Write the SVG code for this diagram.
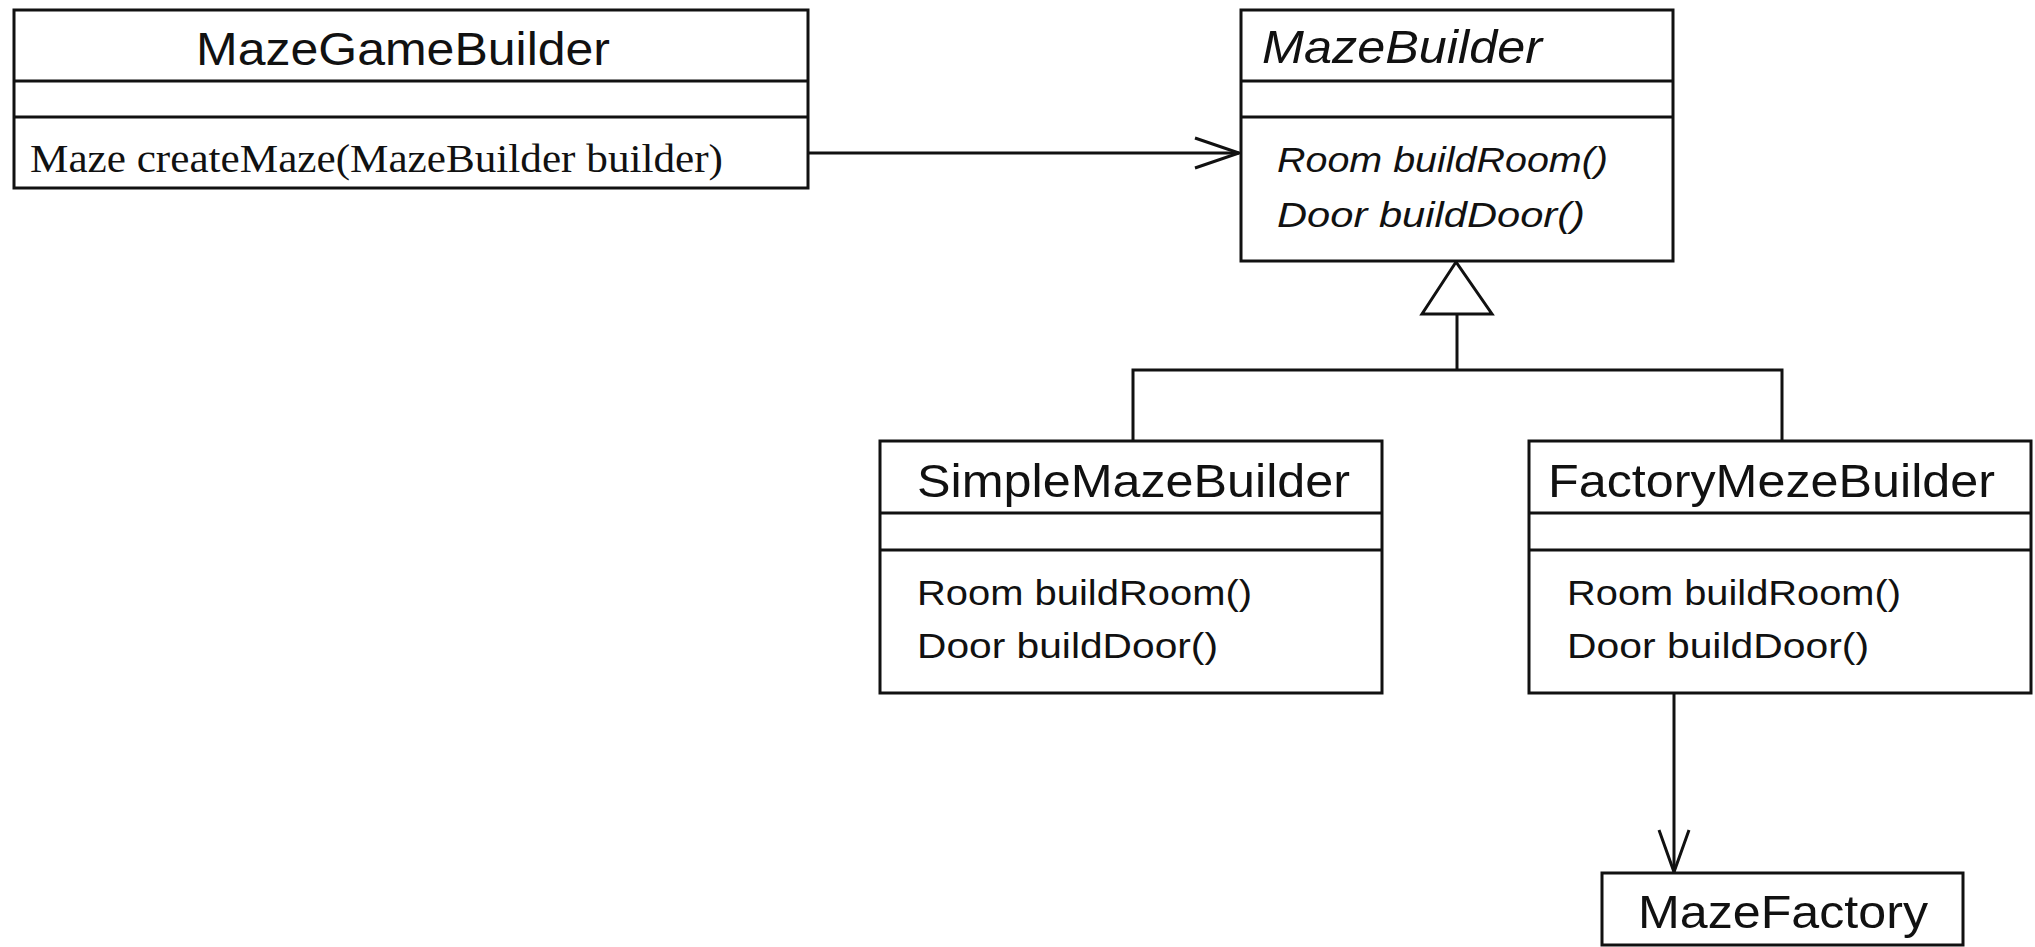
<svg xmlns="http://www.w3.org/2000/svg" width="2035" height="947" viewBox="0 0 2035 947">
<style>
.box{fill:#fff;stroke:#111;stroke-width:3}
.div{stroke:#111;stroke-width:3}
.name{font-family:"Liberation Sans",Arial,sans-serif;font-size:46px;fill:#111}
.iname{font-family:"Liberation Sans",Arial,sans-serif;font-size:46px;font-style:italic;fill:#111}
.meth{font-family:"Liberation Sans",Arial,sans-serif;font-size:35px;fill:#111}
.imeth{font-family:"Liberation Sans",Arial,sans-serif;font-size:35px;font-style:italic;fill:#111}
.smeth{font-family:"Liberation Serif","Times New Roman",serif;font-size:40px;fill:#111}
.line{fill:none;stroke:#111;stroke-width:3}
.tri{fill:#fff;stroke:#111;stroke-width:3;stroke-linejoin:miter}
</style>
<rect x="0" y="0" width="2035" height="947" fill="#fff"/>
<g id="connectors">
  <line class="line" x1="808" y1="153" x2="1239" y2="153"/>
  <polyline class="line" points="1195,138 1239,153 1195,168"/>
  <polyline class="line" points="1133,441 1133,370 1782,370 1782,441"/>
  <line class="line" x1="1457" y1="314" x2="1457" y2="370"/>
  <polygon class="tri" points="1456,262 1422,314 1492,314"/>
  <line class="line" x1="1674" y1="693" x2="1674" y2="872"/>
  <polyline class="line" points="1659,830 1674,872 1689,830"/>
</g>
<g id="MazeGameBuilder">
  <rect class="box" x="14" y="10" width="794" height="178"/>
  <line class="div" x1="14" y1="81" x2="808" y2="81"/>
  <line class="div" x1="14" y1="117" x2="808" y2="117"/>
  <text class="name" x="196" y="65" textLength="414" lengthAdjust="spacingAndGlyphs">MazeGameBuilder</text>
  <text class="smeth" x="30" y="172" textLength="693" lengthAdjust="spacingAndGlyphs">Maze createMaze(MazeBuilder builder)</text>
</g>
<g id="MazeBuilder">
  <rect class="box" x="1241" y="10" width="432" height="251"/>
  <line class="div" x1="1241" y1="81" x2="1673" y2="81"/>
  <line class="div" x1="1241" y1="117" x2="1673" y2="117"/>
  <text class="iname" x="1262" y="63" textLength="280" lengthAdjust="spacingAndGlyphs">MazeBuilder</text>
  <text class="imeth" x="1277" y="172" textLength="331" lengthAdjust="spacingAndGlyphs">Room buildRoom()</text>
  <text class="imeth" x="1277" y="227" textLength="308" lengthAdjust="spacingAndGlyphs">Door buildDoor()</text>
</g>
<g id="SimpleMazeBuilder">
  <rect class="box" x="880" y="441" width="502" height="252"/>
  <line class="div" x1="880" y1="513" x2="1382" y2="513"/>
  <line class="div" x1="880" y1="550" x2="1382" y2="550"/>
  <text class="name" x="917" y="497" textLength="433" lengthAdjust="spacingAndGlyphs">SimpleMazeBuilder</text>
  <text class="meth" x="917" y="605" textLength="335" lengthAdjust="spacingAndGlyphs">Room buildRoom()</text>
  <text class="meth" x="917" y="658" textLength="301" lengthAdjust="spacingAndGlyphs">Door buildDoor()</text>
</g>
<g id="FactoryMezeBuilder">
  <rect class="box" x="1529" y="441" width="502" height="252"/>
  <line class="div" x1="1529" y1="513" x2="2031" y2="513"/>
  <line class="div" x1="1529" y1="550" x2="2031" y2="550"/>
  <text class="name" x="1548" y="497" textLength="447" lengthAdjust="spacingAndGlyphs">FactoryMezeBuilder</text>
  <text class="meth" x="1567" y="605" textLength="334" lengthAdjust="spacingAndGlyphs">Room buildRoom()</text>
  <text class="meth" x="1567" y="658" textLength="302" lengthAdjust="spacingAndGlyphs">Door buildDoor()</text>
</g>
<g id="MazeFactory">
  <rect class="box" x="1602" y="873" width="361" height="72"/>
  <text class="name" x="1638" y="928" textLength="290" lengthAdjust="spacingAndGlyphs">MazeFactory</text>
</g>
</svg>
